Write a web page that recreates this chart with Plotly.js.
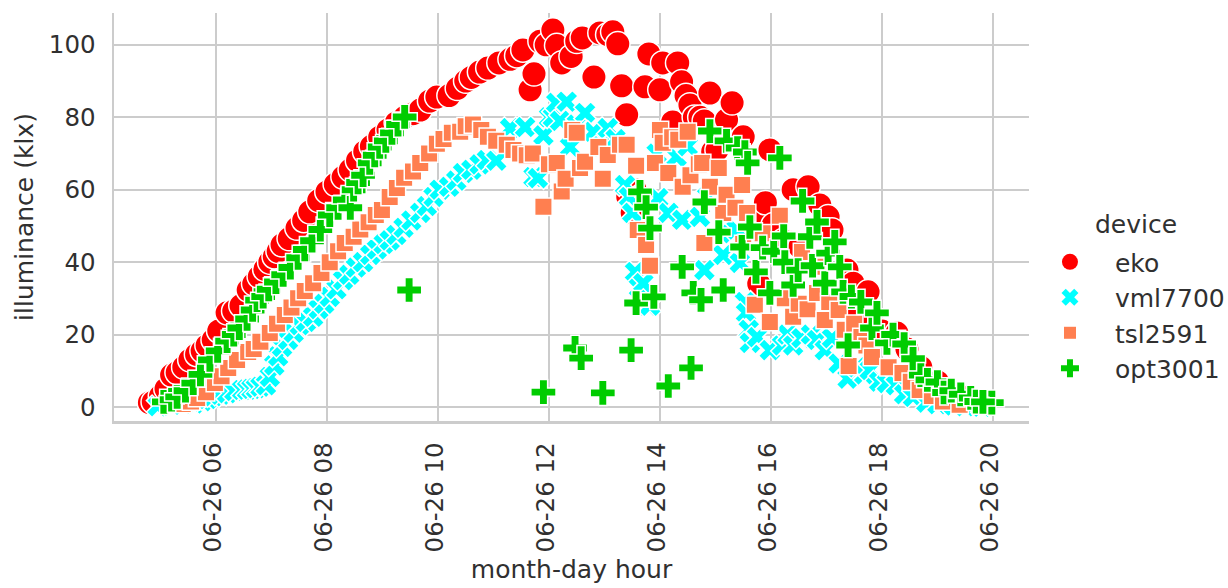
<!DOCTYPE html>
<html><head><meta charset="utf-8">
<script src="https://cdn.plot.ly/plotly-3.0.1.min.js"></script>
<style>html,body{margin:0;padding:0;background:#fff}</style></head>
<body><div id="chart" style="width:1228px;height:588px"></div>
<script>
// each pair: hour of 26 June, illuminance in klx
const eko = [[4.80,1.2],[4.87,1.4],[5.0,3],[5.1,5],[5.2,8.8],[5.3,9.5],[5.42,11],[5.53,13],[5.65,14.5],[5.75,15.5],[5.84,17],[5.95,18.5],[6.05,21],[6.2,26],[6.32,26.5],[6.45,28],[6.58,32.3],[6.68,34],[6.78,36],[6.88,38],[6.97,40],[7.05,41.5],[7.12,43],[7.19,44.8],[7.32,46.5],[7.46,49.4],[7.58,51.5],[7.69,53.9],[7.85,57],[8.0,59.4],[8.15,61.5],[8.29,63.5],[8.42,65.5],[8.55,68],[8.68,70.5],[8.8,72],[8.95,74.5],[9.1,76.5],[9.25,78.5],[9.4,80],[9.55,81],[9.68,82],[9.85,84.5],[9.98,85.6],[10.2,86],[10.35,88],[10.5,90],[10.6,91],[10.75,92.5],[10.9,93.6],[11.1,95],[11.3,96],[11.42,97],[11.53,98.6],[11.66,87.6],[11.73,92],[11.84,101],[11.95,100],[12.07,104.1],[12.14,99.8],[12.23,95],[12.4,96.8],[12.5,101],[12.6,101.9],[12.81,91.1],[12.92,103.3],[13.06,102.8],[13.15,103.6],[13.24,100.3],[13.31,88.7],[13.4,80.7],[13.42,58],[13.5,53.6],[13.55,60],[13.73,88.4],[13.8,97.5],[14.0,87.6],[14.05,95],[14.23,78.7],[14.32,95],[14.39,89.8],[14.47,86],[14.54,83.4],[14.62,80],[14.72,80],[14.8,79],[14.9,86.7],[14.95,70.5],[15.03,71],[15.2,79.3],[15.3,84],[15.5,74.6],[15.77,53],[15.78,34],[15.9,56.4],[15.98,71],[16.04,50.3],[16.22,46],[16.4,60],[16.52,44.2],[16.67,60.8],[16.88,55.8],[17.03,52.5],[17.1,48.9],[17.37,37.8],[17.48,34.2],[17.55,24.9],[17.75,31.8],[18.0,21],[18.27,20.4],[18.45,16],[18.7,11],[19.0,7],[19.4,3],[19.85,1.2]];
const vml7700 = [[4.95,0.2],[5.2,0.4],[5.4,0.6],[5.6,1],[5.75,1.6],[5.85,2.2],[5.95,3],[6.08,3.4],[6.2,3.8],[6.33,4.4],[6.47,4.7],[6.56,4.8],[6.64,5],[6.72,5.2],[6.8,5.6],[6.9,6],[6.97,8.3],[7.05,11.5],[7.12,14],[7.19,16.6],[7.3,18.5],[7.4,20.5],[7.51,22.6],[7.62,23.5],[7.75,24.9],[7.85,27],[7.95,28.5],[8.05,30.4],[8.17,32.5],[8.29,35],[8.4,36.5],[8.52,38.5],[8.65,40],[8.78,42],[8.9,43.5],[9.02,45],[9.13,46],[9.25,47.5],[9.38,49.5],[9.52,51.5],[9.68,53.6],[9.8,55.5],[9.92,58],[10.03,60],[10.2,60.8],[10.33,62.5],[10.45,64.6],[10.6,65.5],[10.75,67],[10.88,68.2],[11.05,68],[11.3,77],[11.57,77.3],[11.72,63.5],[11.8,63.2],[11.9,75],[12.0,80],[12.07,80],[12.13,84],[12.2,79],[12.32,84.3],[12.38,71.8],[12.5,78],[12.65,81.2],[12.8,76],[12.95,72],[13.06,77],[13.2,74],[13.37,61.3],[13.44,58],[13.5,53.6],[13.55,37.3],[13.62,33],[13.7,34.2],[13.78,28],[13.82,28],[13.94,70],[13.97,57.7],[14.15,53.6],[14.3,69],[14.4,51.7],[14.5,72],[14.72,52.5],[14.8,37.8],[14.85,58],[15.14,42],[15.3,48],[15.38,49],[15.44,39.8],[15.53,29],[15.55,26],[15.6,21.3],[15.62,17.7],[15.75,19.3],[15.98,15.7],[16.2,17],[16.3,20],[16.4,17],[16.55,19],[16.72,20],[16.83,18.5],[16.97,15.7],[17.1,19],[17.22,12],[17.38,7.8],[17.55,11],[17.68,9],[17.78,10.2],[17.95,7],[18.09,6.6],[18.25,6],[18.4,3.5],[18.56,2.8],[18.8,1.2],[19.0,0.8],[19.3,0.4],[19.5,0.2],[19.8,0.1]];
const tsl2591 = [[5.4,0.8],[5.55,1.5],[5.66,2.5],[5.82,4.1],[5.98,6.6],[6.1,8.5],[6.22,10.8],[6.38,13],[6.58,15.2],[6.68,16],[6.8,18],[6.97,20.4],[7.1,23],[7.24,25.4],[7.36,27.5],[7.48,30],[7.6,32],[7.75,34.2],[7.9,37],[8.05,40],[8.2,43],[8.32,45.3],[8.48,47],[8.6,49],[8.75,51],[8.88,53],[8.99,54.4],[9.13,58],[9.26,60.5],[9.39,63.3],[9.55,65],[9.68,67.4],[9.84,70],[9.98,72.7],[10.1,74],[10.25,75.7],[10.4,76],[10.5,77.5],[10.63,78],[10.78,76.5],[10.9,74.6],[11.05,73.5],[11.24,72.4],[11.36,71],[11.48,70],[11.6,69.5],[11.71,70],[11.9,55.3],[12.0,67],[12.14,67.4],[12.23,59.5],[12.3,63],[12.42,76.5],[12.5,75.7],[12.56,66],[12.65,67.7],[12.89,71.8],[12.97,63],[13.06,69.6],[13.28,72.4],[13.4,72.4],[13.57,66.6],[13.6,48.9],[13.75,44.7],[13.82,39],[13.91,67.4],[14.0,76.5],[14.05,73],[14.15,64.6],[14.22,74.5],[14.33,73.8],[14.41,60.8],[14.5,76],[14.55,64],[14.7,67],[14.76,67.4],[14.8,45.3],[14.9,60.8],[15.06,66],[15.14,53.6],[15.2,58.6],[15.36,55],[15.48,61.3],[15.57,53.6],[15.5,45],[15.71,28.2],[15.85,48],[15.98,23.5],[16.16,52.8],[16.25,30],[16.4,24.9],[16.5,28.5],[16.56,42.8],[16.66,27],[16.83,31.5],[16.85,38.7],[16.97,24],[17.05,29],[17.22,26.8],[17.33,21.3],[17.4,11.3],[17.5,23],[17.63,19.3],[17.72,17],[17.82,13.8],[18.12,11],[18.37,9.4],[18.52,7],[18.68,4.7],[18.9,3],[19.1,1.5],[19.4,0.6]];
const opt3001 = [[5.06,1.4],[5.2,2],[5.3,2.8],[5.45,4.5],[5.59,6.6],[5.72,9],[5.89,13],[6.03,15.5],[6.2,18.2],[6.32,20],[6.42,21.8],[6.56,24.3],[6.66,26.8],[6.74,29.5],[6.85,30.5],[6.95,32.5],[7.08,34.5],[7.21,36.5],[7.34,38.5],[7.48,41.2],[7.6,43.5],[7.73,45.9],[7.88,49],[8.05,53],[8.2,55],[8.32,57.2],[8.42,55],[8.48,60],[8.56,62],[8.65,64],[8.77,67.4],[8.86,69.5],[8.95,71.8],[9.06,73.5],[9.17,75.7],[9.28,78],[9.4,80.1],[9.48,32.3],[11.9,4.1],[12.47,16.3],[12.58,13.5],[12.97,3.9],[13.48,15.7],[13.57,28.7],[13.64,59.4],[13.75,55.2],[13.82,49.4],[13.89,30.4],[14.15,5.8],[14.4,38.7],[14.56,10.8],[14.6,31.5],[14.74,29.6],[14.8,56.6],[14.9,76.2],[15.06,48.3],[15.14,32.3],[15.2,73.5],[15.4,71.5],[15.48,44.2],[15.53,70.4],[15.58,67.4],[15.62,49.7],[15.73,37.3],[15.85,44],[15.98,31.5],[16.16,68.8],[16.05,43],[16.23,47.2],[16.25,40],[16.4,33.7],[16.49,37.8],[16.57,56.9],[16.7,47],[16.75,39],[16.83,51.1],[16.97,34.2],[17.03,42.5],[17.15,45.6],[17.24,38.7],[17.3,31.8],[17.39,17.1],[17.45,30.5],[17.62,29],[17.82,21.8],[17.91,26],[18.09,17.7],[18.2,20],[18.4,17.4],[18.56,13.3],[18.7,8.8],[18.82,7.5],[19.0,6.9],[19.12,4],[19.25,4.5],[19.42,3.5],[19.6,2.5],[19.98,1.2],[19.7,1.5],[19.82,1.4]];

const deviceNames = ['eko','vml7700','tsl2591','opt3001'];
const deviceSeries = [eko,vml7700,tsl2591,opt3001];
const deviceColors = ['#ff0000','#00ffff','#ff7f50','#00cc00'];
const deviceSymbols = ['circle','x','square','cross'];
const plotSizes = [24.5,20,17.5,21];
const legendSizes = [16,15,12,15];
const xTickHours = [6,8,10,12,14,16,18,20];
const xTickLabels = ['06-26 06','06-26 08','06-26 10','06-26 12','06-26 14','06-26 16','06-26 18','06-26 20'];
const yTicks = [0,20,40,60,80,100];

const grey='#cccccc', ink='#303030', font='"DejaVu Sans", sans-serif';
const traces = [];
deviceNames.forEach((name,i)=>{
  traces.push({type:'scatter',mode:'markers',name,showlegend:false,cliponaxis:false,
    x:deviceSeries[i].map(p=>p[0]),y:deviceSeries[i].map(p=>p[1]),
    marker:{color:deviceColors[i],symbol:deviceSymbols[i],size:plotSizes[i],line:{color:'#ffffff',width:1.5}}});
});
deviceNames.forEach((name,i)=>{
  traces.push({type:'scatter',mode:'markers',name,legendgroup:name,showlegend:true,x:[null],y:[null],
    marker:{color:deviceColors[i],symbol:deviceSymbols[i],size:legendSizes[i],line:{color:'#ffffff',width:0}}});
});
const layout = {
  width:1228,height:588,paper_bgcolor:'#fff',plot_bgcolor:'#fff',
  margin:{l:114,r:199,t:13,b:167,pad:0,autoexpand:false},
  font:{family:font,color:ink,size:25},
  xaxis:{range:[4.162,20.65],tickvals:xTickHours,ticktext:xTickLabels,tickangle:-90,
    showgrid:true,gridcolor:grey,gridwidth:2,zeroline:false,showline:true,linecolor:grey,linewidth:2.5,ticks:'',
    ticklabelstandoff:9,ticklabelshift:-3,tickfont:{size:24.5},title:{text:'month-day hour',font:{size:25},standoff:9}},
  yaxis:{range:[-3.87,108.8],tickvals:yTicks,
    showgrid:true,gridcolor:grey,gridwidth:2,zeroline:false,showline:true,linecolor:grey,linewidth:2.5,ticks:'',
    ticklabelstandoff:11,tickfont:{size:24.5},title:{text:'illuminance (klx)',font:{size:25},standoff:8}},
  legend:{x:0.9956,xanchor:'left',y:0.446,yanchor:'top',font:{size:25},tracegroupgap:3,itemwidth:80,
    traceorder:'normal',bgcolor:'rgba(0,0,0,0)',itemclick:false},
  annotations:[{xref:'paper',yref:'paper',x:1.07,y:(421-225)/408,xanchor:'left',yanchor:'middle',
    text:'device',showarrow:false,font:{size:25,color:ink}}],
  showlegend:true
};
Plotly.newPlot('chart',traces,layout,{displayModeBar:false,staticPlot:true});
</script></body></html>
